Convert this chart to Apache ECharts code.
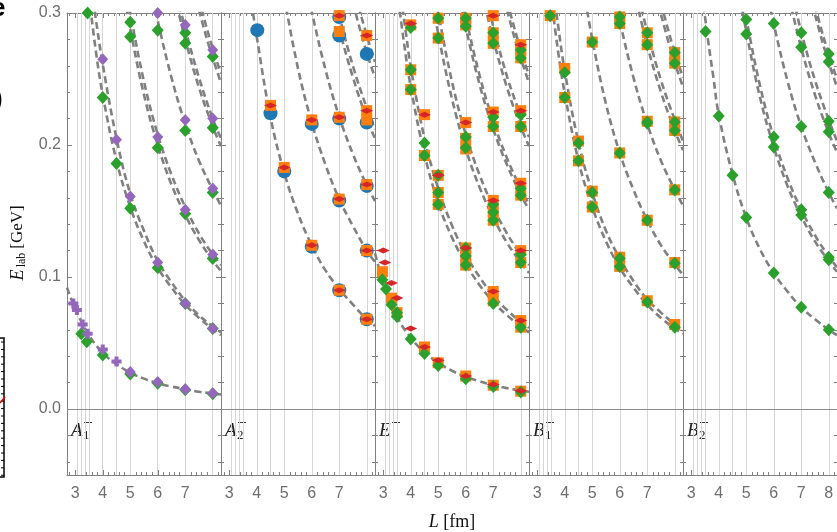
<!DOCTYPE html>
<html><head><meta charset="utf-8">
<script src="https://cdn.jsdelivr.net/npm/echarts@6/dist/echarts.min.js"></script>
<style>html,body{margin:0;padding:0;background:#fff}#c{width:837px;height:532px}</style>
</head><body><div id="c"></div>
<script>
// ---------------- data ----------------
const panelNames = ['A1', 'A2', 'E', 'B1', 'B2'];
const xTickLabels = [3, 4, 5, 6, 7];
const xTickLabelsLast = [3, 4, 5, 6, 7, 8];
const yTickLabels = [0.0, 0.1, 0.2, 0.3];
const latticeL = [3.07, 3.22, 3.38, 3.5, 4, 4.5, 5, 6, 7, 8];

// dashed non-interacting curves, per panel
const curvesA1 = [
  [[2.7,0.092],[3,0.076],[3.5,0.056],[4,0.0425],[4.5,0.034],[5,0.0275],[5.5,0.023],[6,0.0195],[6.5,0.017],[7,0.015],[7.5,0.013],[8,0.0118],[8.3,0.011]],
  [[3.5,0.313],[3.75,0.271],[4,0.238],[4.5,0.188],[5,0.153],[5.5,0.127],[6,0.107],[6.5,0.092],[7,0.079],[7.5,0.069],[8,0.0605],[8.3,0.056]],
  [[3.6,0.318],[3.8,0.288],[4,0.261],[4.5,0.205],[5,0.163],[5.5,0.135],[6,0.112],[6.5,0.096],[7,0.082],[7.5,0.071],[8,0.0625],[8.3,0.058]],
  [[4.8,0.3125],[5,0.288],[5.5,0.238],[6,0.200],[6.5,0.170],[7,0.147],[7.5,0.128],[8,0.1125],[8.3,0.1045]],
  [[4.9,0.3124],[5,0.300],[5.5,0.248],[6,0.208],[6.5,0.1775],[7,0.153],[7.5,0.133],[8,0.117],[8.3,0.109]],
  [[5.85,0.31],[6,0.294],[6.5,0.251],[7,0.216],[7.5,0.188],[8,0.166],[8.3,0.154]],
  [[6.6,0.3145],[7,0.280],[7.5,0.2435],[8,0.214],[8.3,0.199]],
  [[6.7,0.314],[7,0.288],[7.5,0.251],[8,0.220],[8.3,0.205]],
  [[7.4,0.3105],[7.75,0.283],[8,0.266],[8.3,0.247]],
  [[7.5,0.311],[7.75,0.291],[8,0.273],[8.3,0.254]]
];
const curvesA2 = [
  [[3.75,0.316],[4,0.282],[4.5,0.221],[5,0.179],[5.5,0.148],[6,0.124],[6.5,0.105],[7,0.091],[7.5,0.079],[8,0.068],[8.3,0.063]],
  [[5,0.312],[5.5,0.258],[6,0.217],[6.5,0.185],[7,0.159],[7.5,0.1385],[8,0.120],[8.3,0.1115]],
  [[5.9,0.312],[6,0.301],[6.5,0.257],[7,0.2214],[7.5,0.193],[8,0.1695],[8.3,0.1575]],
  [[6.7,0.314],[7,0.288],[7.5,0.251],[8,0.220],[8.3,0.205]],
  [[6.8,0.316],[7,0.298],[7.5,0.2596],[8,0.228],[8.3,0.212]],
  [[7.5,0.3075],[7.75,0.288],[8,0.270],[8.3,0.251]],
  [[7.7,0.305],[8,0.283],[8.3,0.263]]
];
const curvesE = [
  [[2.7,0.118],[3,0.096],[3.5,0.07],[4,0.054],[4.5,0.043],[5,0.035],[5.5,0.029],[6,0.0245],[6.5,0.021],[7,0.018],[7.5,0.0158],[8,0.014],[8.3,0.013]],
  [[3.55,0.31],[3.75,0.278],[4,0.244],[4.5,0.193],[5,0.156],[5.5,0.13],[6,0.110],[6.5,0.094],[7,0.081],[7.5,0.071],[8,0.0625],[8.3,0.058]],
  [[3.65,0.312],[3.85,0.281],[4,0.259],[4.5,0.205],[5,0.167],[5.5,0.139],[6,0.117],[6.5,0.1],[7,0.086],[7.5,0.075],[8,0.066],[8.3,0.0615]],
  [[4.75,0.3147],[5,0.284],[5.5,0.235],[6,0.197],[6.5,0.168],[7,0.145],[7.5,0.126],[8,0.111],[8.3,0.103]],
  [[4.9,0.3124],[5,0.300],[5.5,0.248],[6,0.208],[6.5,0.1775],[7,0.153],[7.5,0.133],[8,0.117],[8.3,0.109]],
  [[5.8,0.309],[6,0.289],[6.5,0.246],[7,0.212],[7.5,0.185],[8,0.1625],[8.3,0.151]],
  [[5.85,0.3127],[6,0.297],[6.5,0.253],[7,0.218],[7.5,0.190],[8,0.167],[8.3,0.155]],
  [[6.6,0.3145],[7,0.280],[7.5,0.2435],[8,0.214],[8.3,0.199]],
  [[6.75,0.3117],[7,0.290],[7.5,0.252],[8,0.222],[8.3,0.206]],
  [[7.4,0.3105],[7.75,0.283],[8,0.266],[8.3,0.247]],
  [[7.5,0.309],[7.75,0.290],[8,0.272],[8.3,0.2525]]
];
const curvesB1 = [
  [[3.5,0.313],[3.75,0.272],[4,0.239],[4.5,0.188],[5,0.153],[5.5,0.127],[6,0.107],[6.5,0.092],[7,0.079],[7.5,0.069],[8,0.061],[8.3,0.057]],
  [[3.55,0.325],[3.75,0.292],[4,0.256],[4.5,0.202],[5,0.164],[5.5,0.135],[6,0.114],[6.5,0.097],[7,0.083],[7.5,0.073],[8,0.064],[8.3,0.0595]],
  [[4.75,0.310],[5,0.280],[5.5,0.231],[6,0.194],[6.5,0.166],[7,0.143],[7.5,0.124],[8,0.1095],[8.3,0.1016]],
  [[5.85,0.31],[6,0.294],[6.5,0.251],[7,0.216],[7.5,0.188],[8,0.166],[8.3,0.154]],
  [[6.6,0.31],[7,0.2755],[7.5,0.240],[8,0.211],[8.3,0.196]],
  [[6.7,0.312],[7,0.2857],[7.5,0.249],[8,0.219],[8.3,0.203]],
  [[7.4,0.3068],[7.75,0.2797],[8,0.2625],[8.3,0.2439]],
  [[7.5,0.3075],[7.75,0.288],[8,0.270],[8.3,0.251]]
];
const curvesB2 = [
  [[3.4,0.314],[3.6,0.281],[3.8,0.252],[4,0.223],[4.5,0.178],[5,0.145],[5.5,0.121],[6,0.103],[6.5,0.089],[7,0.077],[7.5,0.068],[8,0.060],[8.3,0.056]],
  [[4.8,0.31],[5,0.286],[5.5,0.236],[6,0.1986],[6.5,0.169],[7,0.146],[7.5,0.127],[8,0.112],[8.3,0.104]],
  [[4.85,0.3146],[5,0.296],[5.5,0.245],[6,0.2056],[6.5,0.175],[7,0.151],[7.5,0.1316],[8,0.1156],[8.3,0.1074]],
  [[5.8,0.312],[6,0.2917],[6.5,0.2485],[7,0.214],[7.5,0.187],[8,0.164],[8.3,0.152]],
  [[6.55,0.3123],[7,0.2735],[7.5,0.238],[8,0.209],[8.3,0.1945]],
  [[6.7,0.312],[7,0.2857],[7.5,0.249],[8,0.219],[8.3,0.203]],
  [[7.4,0.3068],[7.75,0.2797],[8,0.2625],[8.3,0.2439]],
  [[7.5,0.3058],[7.75,0.286],[8,0.269],[8.3,0.2497]]
];

// markers, per panel
const purpleCrossA1 = [[2.93,0.080],[3.06,0.075],[3.27,0.064],[3.45,0.057],[4,0.045],[4.5,0.036]];
const purpleA1 = [[4,0.265],[4.5,0.204],[5,0.161],[6,0.111],[7,0.080],[8,0.061],[6,0.206],[7,0.151],[8,0.117],
  [7,0.219],[8,0.167],[6,0.300],[7,0.291],[8,0.220],[8,0.272],[5,0.028],[6,0.0205],[7,0.015],[8,0.012]];
const greenA1 = [[3.45,0.300],[4,0.236],[4.5,0.186],[5,0.152],[6,0.107],[7,0.080],[8,0.061],[5,0.293],[5,0.282],
  [6,0.198],[7,0.148],[8,0.114],[6,0.287],[7,0.211],[8,0.164],[7,0.285],[7,0.277],[8,0.213],[8,0.267],
  [3.22,0.057],[3.42,0.051],[4,0.041],[5,0.0265],[6,0.0195],[7,0.0145],[8,0.0115]];

const blueA2 = [[4.02,0.287],[4.5,0.224],[5,0.180],[6,0.123],[7,0.090],[8,0.068],[6,0.216],[7,0.158],[8,0.120],
  [7,0.220],[8,0.169],[7,0.297],[7,0.283],[8,0.269],[8,0.217]];
const orangeA2 = [[4.5,0.230],[5,0.183],[6,0.124],[7,0.090],[8,0.068],[6,0.219],[7,0.159],[8,0.120],[7,0.221],
  [8,0.170],[7,0.298],[7,0.286],[8,0.283],[8,0.226],[8,0.219],[6,0.301]];
const redA2 = [[4.5,0.230],[5,0.183],[6,0.124],[7,0.090],[8,0.068],[6,0.219],[7,0.159],[8,0.120],[7,0.221],
  [8,0.170],[7,0.298],[8,0.283],[8,0.226],[6,0.301]];

const orangeE = [[2.97,0.104],[3.3,0.084],[3.5,0.073],[4,0.291],[4,0.257],[4,0.242],[4.5,0.223],[4.5,0.192],[4.5,0.047],
  [5,0.296],[5,0.281],[5,0.177],[5,0.164],[5,0.155],[5,0.035],[6,0.296],[6,0.291],[6,0.217],[6,0.205],[6,0.197],
  [6,0.122],[6,0.116],[6,0.109],[6,0.025],[7,0.298],[7,0.285],[7,0.277],[7,0.225],[7,0.214],[7,0.158],[7,0.150],
  [7,0.143],[7,0.089],[7,0.082],[7,0.018],[8,0.276],[8,0.272],[8,0.266],[8,0.226],[8,0.214],[8,0.171],[8,0.162],
  [8,0.120],[8,0.111],[8,0.067],[8,0.062],[8,0.0135]];
const greenE = [[2.97,0.098],[3.1,0.091],[3.3,0.079],[3.5,0.073],[3.5,0.070],[4,0.053],[4.5,0.042],[5,0.033],[6,0.023],
  [7,0.017],[8,0.0128],[4,0.289],[4,0.257],[4,0.242],[4.5,0.2015],[4.5,0.192],[5,0.177],[5,0.296],[5,0.281],[5,0.164],
  [5,0.155],[6,0.296],[6,0.290],[6,0.206],[6,0.198],[6,0.122],[6,0.116],[6,0.109],[7,0.285],[7,0.277],[7,0.221],
  [7,0.214],[7,0.155],[7,0.149],[7,0.143],[7,0.080],[8,0.272],[8,0.266],[8,0.223],[8,0.214],[8,0.167],[8,0.162],
  [8,0.117],[8,0.111],[8,0.062]];
const redE = [[3.0,0.120],[3.06,0.111],[3.3,0.0955],[3.5,0.084],[4,0.061],[4.5,0.047],[5,0.037],[6,0.025],[7,0.0185],
  [8,0.0138],[4,0.292],[4.5,0.223],[5,0.177],[6,0.217],[6,0.122],[7,0.298],[7,0.225],[7,0.158],[7,0.089],
  [8,0.276],[8,0.226],[8,0.171],[8,0.120],[8,0.067]];

const orangeB1 = [[3.47,0.298],[4,0.258],[4,0.236],[4.5,0.203],[4.5,0.188],[5,0.278],[5,0.165],[5,0.153],[6,0.297],
  [6,0.292],[6,0.194],[6,0.115],[6,0.108],[7,0.285],[7,0.276],[7,0.218],[7,0.143],[7,0.082],[8,0.270],[8,0.262],
  [8,0.2175],[8,0.211],[8,0.166],[8,0.111],[8,0.064]];
const greenB1 = [[3.47,0.298],[4,0.255],[4,0.236],[4.5,0.2015],[4.5,0.188],[5,0.278],[5,0.164],[5,0.153],[6,0.297],
  [6,0.292],[6,0.194],[6,0.114],[6,0.108],[7,0.285],[7,0.276],[7,0.2175],[7,0.2165],[7,0.143],[7,0.081],[8,0.270],
  [8,0.262],[8,0.2175],[8,0.211],[8,0.166],[8,0.1105],[8,0.062]];

const greenB2 = [[3.52,0.286],[4,0.222],[4.5,0.177],[5,0.145],[5,0.295],[5,0.284],[6,0.292],[6,0.206],[6,0.1985],
  [6,0.103],[7,0.285],[7,0.274],[7,0.214],[7,0.151],[7,0.147],[7,0.077],[8,0.269],[8,0.263],[8,0.218],[8,0.210],
  [8,0.164],[8,0.115],[8,0.113],[8,0.060]];

// ---------------- layout / style ----------------
const GRID_L = 67, GRID_W = 154, GRID_T = 13, GRID_H = 462;
const X_MIN = 2.7, X_MAX = 8.3, Y_MIN = -0.05, Y_MAX = 0.3;
const frameColor = '#808080', labelColor = '#6e6e6e';
const xMajor = [3, 4, 5, 6, 7, 8];
const xMinor = []; for (let k = 14; k <= 41; k++) xMinor.push(+(k * 0.2).toFixed(1));
const yMajor = [0, 0.1, 0.2, 0.3];
const yMinor = []; for (let k = -2; k <= 15; k++) yMinor.push(+(k * 0.02).toFixed(2));

const markerStyles = {
  blue:   { symbol: 'circle', size: 14, color: '#1f77b4', z: 3 },
  orange: { symbol: 'rect', size: 11, color: '#ff7f0e', z: 4 },
  green:  { symbol: 'diamond', size: [12, 13], color: '#2ca02c', z: 5 },
  red:    { symbol: 'path://M0,5L12,0L24,5L12,10Z', size: [13, 6], color: '#d62728', z: 6 },
  purple: { symbol: 'diamond', size: [11, 12], color: '#9467bd', z: 7 },
  purpleCross: { symbol: 'path://M3,0H7V3H10V7H7V10H3V7H0V3H3Z', size: 10, color: '#9467bd', z: 7 }
};

const panelData = [
  { curves: curvesA1, marks: [['green', greenA1], ['purple', purpleA1], ['purpleCross', purpleCrossA1]] },
  { curves: curvesA2, marks: [['blue', blueA2], ['orange', orangeA2], ['red', redA2]] },
  { curves: curvesE,  marks: [['orange', orangeE], ['green', greenE], ['red', redE]] },
  { curves: curvesB1, marks: [['orange', orangeB1], ['green', greenB1]] },
  { curves: curvesB2, marks: [['green', greenB2]] }
];

const grid = [], xAxis = [], yAxis = [], series = [], graphic = [];

function xAx(i, pos, major, labels) {
  return {
    gridIndex: i, type: 'value', min: X_MIN, max: X_MAX, position: pos,
    axisLine: { show: major, onZero: false, lineStyle: { color: frameColor, width: 1 } },
    axisTick: { show: true, inside: true, length: major ? 5 : 3, customValues: major ? xMajor : xMinor,
                lineStyle: { color: frameColor, width: 1 } },
    axisLabel: labels ? { show: true, customValues: labels, color: labelColor, fontSize: 16,
                fontFamily: 'Liberation Sans', margin: 11 } : { show: false },
    splitLine: { show: false }
  };
}
function yAx(i, pos, major, labels) {
  return {
    gridIndex: i, type: 'value', min: Y_MIN, max: Y_MAX, position: pos,
    axisLine: { show: major, onZero: false, lineStyle: { color: frameColor, width: 1 } },
    axisTick: { show: true, inside: true, length: major ? 5 : 3, customValues: major ? yMajor : yMinor,
                lineStyle: { color: frameColor, width: 1 } },
    axisLabel: labels ? { show: true, customValues: labels, color: labelColor, fontSize: 16,
                fontFamily: 'Liberation Sans', margin: 6, formatter: v => Number(v).toFixed(1) } : { show: false },
    splitLine: { show: false }
  };
}

panelData.forEach((p, i) => {
  const left = GRID_L + GRID_W * i;
  grid.push({ left: left, top: GRID_T, width: GRID_W, height: GRID_H, containLabel: false });
  xAxis.push(xAx(i, 'bottom', true, i === 4 ? xTickLabelsLast : xTickLabels));
  xAxis.push(xAx(i, 'bottom', false, null));
  xAxis.push(xAx(i, 'top', true, null));
  xAxis.push(xAx(i, 'top', false, null));
  yAxis.push(yAx(i, 'left', true, i === 0 ? yTickLabels : null));
  yAxis.push(yAx(i, 'left', false, null));
  yAxis.push(yAx(i, 'right', true, null));
  yAxis.push(yAx(i, 'right', false, null));
  const ax = { xAxisIndex: 4 * i, yAxisIndex: 4 * i };
  series.push(Object.assign({
    type: 'lines', coordinateSystem: 'cartesian2d', silent: true, z: 1,
    data: latticeL.map(L => ({ coords: [[L, Y_MIN], [L, Y_MAX]] })),
    lineStyle: { color: '#d6d6d6', width: 1, opacity: 1 }
  }, ax));
  series.push(Object.assign({
    type: 'lines', coordinateSystem: 'cartesian2d', silent: true, z: 1,
    data: [{ coords: [[X_MIN, 0], [X_MAX, 0]] }],
    lineStyle: { color: '#8a8a8a', width: 1, opacity: 1 }
  }, ax));
  p.curves.forEach(c => {
    series.push(Object.assign({
      type: 'line', data: c, smooth: 0.4, symbol: 'none', silent: true, z: 2, clip: true,
      lineStyle: { color: '#808080', width: 2.6, type: [7, 4] }
    }, ax));
  });
  p.marks.forEach(([kind, data]) => {
    const s = markerStyles[kind];
    series.push(Object.assign({
      type: 'scatter', data: data, symbol: s.symbol, symbolSize: s.size, z: s.z, silent: true,
      itemStyle: { color: s.color, opacity: 1 }
    }, ax));
  });
});

// panel labels (irrep names)
const labelParts = [['A', '1'], ['A', '2'], ['E', ''], ['B', '1'], ['B', '2']];
labelParts.forEach(([L, sub], i) => {
  const left = GRID_L + GRID_W * i;
  graphic.push({ type: 'text', x: left + 4, y: 431, silent: true,
    style: { text: L, fontSize: 19, fontStyle: 'italic', fontFamily: 'Liberation Serif', fill: '#222',
             align: 'left', verticalAlign: 'middle' } });
  graphic.push({ type: 'rect', silent: true,
    shape: { x: left + 17, y: 422, width: 8, height: 1 },
    style: { fill: '#333' } });
  if (sub) graphic.push({ type: 'text', x: left + 16, y: 436, silent: true,
    style: { text: sub, fontSize: 13, fontFamily: 'Liberation Serif', fill: '#222',
             align: 'left', verticalAlign: 'middle' } });
});

// axis titles
graphic.push({ type: 'text', x: 18, y: 275, rotation: Math.PI / 2, silent: true,
  style: { text: 'E', fontSize: 18, fontStyle: 'italic', fontFamily: 'Liberation Serif', fill: '#111',
           align: 'center', verticalAlign: 'middle' } });
graphic.push({ type: 'text', x: 22, y: 260, rotation: Math.PI / 2, silent: true,
  style: { text: 'lab', fontSize: 12, fontFamily: 'Liberation Serif', fill: '#111',
           align: 'center', verticalAlign: 'middle' } });
graphic.push({ type: 'text', x: 18, y: 227, rotation: Math.PI / 2, silent: true,
  style: { text: '[GeV]', fontSize: 17, fontFamily: 'Liberation Serif', fill: '#111',
           align: 'center', verticalAlign: 'middle' } });
graphic.push({ type: 'text', x: 452, y: 522, silent: true,
  style: { text: '{i|L} [fm]', fontSize: 18, fontFamily: 'Liberation Serif', fill: '#111',
           align: 'center', verticalAlign: 'middle',
           rich: { i: { fontStyle: 'italic', fontSize: 18, fontFamily: 'Liberation Serif', fill: '#111' } } } });

// cut-off fragments of the neighbouring figure at the left edge
graphic.push({ type: 'text', x: -9, y: 9, silent: true,
  style: { text: 'e', fontSize: 26, fontWeight: 'bold', fontFamily: 'Liberation Sans', fill: '#000', verticalAlign: 'middle' } });
graphic.push({ type: 'text', x: -6, y: 100, silent: true,
  style: { text: ')', fontSize: 26, fontWeight: 'bold', fontFamily: 'Liberation Sans', fill: '#000', verticalAlign: 'middle' } });
graphic.push({ type: 'polyline', silent: true, shape: { points: [[0, 338], [4, 338], [4, 477], [0, 477]] },
  style: { stroke: '#000', fill: null, lineWidth: 1.5 } });
for (let k = 0; k < 19; k++) {
  graphic.push({ type: 'line', silent: true, shape: { x1: 1, y1: 342 + k * 7.4, x2: 4, y2: 342 + k * 7.4 },
    style: { stroke: '#000', lineWidth: 1 } });
}
graphic.push({ type: 'line', silent: true, shape: { x1: 0, y1: 403, x2: 5, y2: 397 },
  style: { stroke: '#e00000', lineWidth: 1.5 } });

const chart = echarts.init(document.getElementById('c'), null, { renderer: 'canvas' });
chart.setOption({
  animation: false,
  backgroundColor: '#ffffff',
  grid, xAxis, yAxis, series, graphic
});
</script></body></html>
